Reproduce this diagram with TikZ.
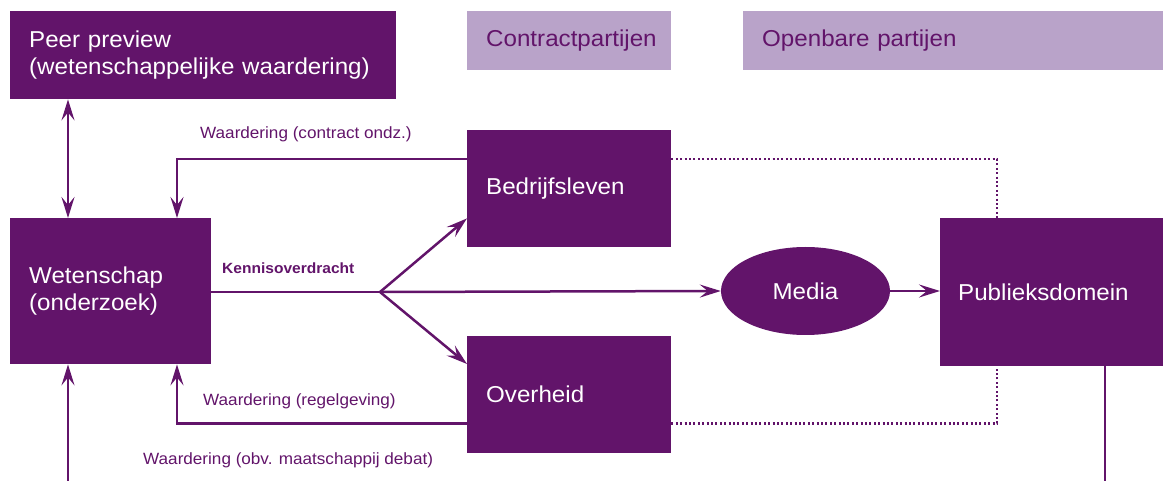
\documentclass[tikz,border=0pt]{standalone}
\usepackage{fontspec}
\setmainfont[FakeStretch=1.05]{Liberation Sans}
\usetikzlibrary{arrows.meta,shapes.geometric}
\definecolor{dp}{HTML}{62146A}
\definecolor{lp}{HTML}{B9A3C9}
\begin{document}
\begin{tikzpicture}[x=1pt,y=-1pt,
  box/.style={fill=dp,text=white,anchor=north west,inner xsep=19pt,inner ysep=0pt,align=left,font=\fontsize{23}{27}\selectfont},
  hdr/.style={fill=lp,text=dp,anchor=north west,inner xsep=19pt,inner ysep=0pt,align=left,font=\fontsize{23}{27}\selectfont},
  lbl/.style={text=dp,anchor=west,inner sep=0pt,font=\fontsize{16.3}{19}\selectfont},
  con/.style={draw=dp,line width=2.5pt},
  arr/.style={con,-{Stealth[length=21pt,width=13pt,inset=8pt]}},
  darr/.style={con,{Stealth[length=21pt,width=13pt,inset=8pt]}-{Stealth[length=21pt,width=13pt,inset=8pt]}},
  dots/.style={draw=dp,line width=2.5pt,dash pattern=on 2pt off 2.4pt}]
\useasboundingbox (0,0) rectangle (1163,481);
% boxes
\node[box,minimum width=386pt,minimum height=88pt,text width=348pt] (peer) at (10,11) {Peer preview\\(wetenschappelijke waardering)};
\node[hdr,minimum width=204pt,minimum height=59pt,text width=166pt] (cp) at (467,11) {Contractpartijen};
\node[hdr,minimum width=420pt,minimum height=59pt,text width=382pt] (op) at (743,11) {Openbare partijen};
\node[box,minimum width=204pt,minimum height=117pt,text width=166pt] (bed) at (467,130) {Bedrijfsleven};
\node[box,minimum width=204pt,minimum height=117pt,text width=166pt] (ove) at (467,336) {Overheid};
\node[box,minimum width=201pt,minimum height=146pt,text width=163pt] (wet) at (10,218) {Wetenschap\\(onderzoek)};
\node[box,minimum width=223pt,minimum height=148pt,text width=187pt,inner xsep=18pt] (pub) at (940,218) {Publieksdomein};
\node[ellipse,fill=dp,text=white,minimum width=169pt,minimum height=88pt,inner sep=0pt,font=\fontsize{23}{27}\selectfont] (med) at (805.5,291) {Media};
% coordinates
\coordinate (fork) at (380,292);
\coordinate (debat) at (68,481);
\coordinate (pubend) at (1105,481);
% connectors
\draw[darr] ([xshift=58pt]peer.south west) -- ([xshift=58pt]wet.north west);
\draw[arr] ([yshift=-29pt]bed.north west) -| ([xshift=167pt]wet.north west);
\draw[arr] ([yshift=30pt]ove.south west) -| ([xshift=167pt]wet.south west);
\draw[arr] (debat) -- ([xshift=58pt]wet.south west);
\draw[con] (wet.east |- fork) -- (fork);
\draw[arr] (fork) -- ([yshift=29pt]bed.south west);
\draw[arr] (fork) -- ([yshift=-28pt]ove.north west);
\draw[arr] (fork) -- (med.west);
\draw[arr] (med.east) -- (pub.west |- med.east);
\draw[dots] ([yshift=-29pt]bed.north east) -| ([xshift=57pt]pub.north west);
\draw[dots] ([yshift=30pt]ove.south east) -| ([xshift=57pt]pub.south west);
\draw[con] ([xshift=165pt]pub.south west) -- (pubend);
% labels
\node[lbl] (l1) at (200,134) {Waardering (contract ondz.)};
\node[lbl,font=\fontsize{14.8}{18}\selectfont\bfseries] (l2) at (222,268) {Kennisoverdracht};
\node[lbl] (l3) at (203,401) {Waardering (regelgeving)};
\node[lbl] (l4) at (143,460) {Waardering (obv. maatschappij debat)};
\end{tikzpicture}
\end{document}
